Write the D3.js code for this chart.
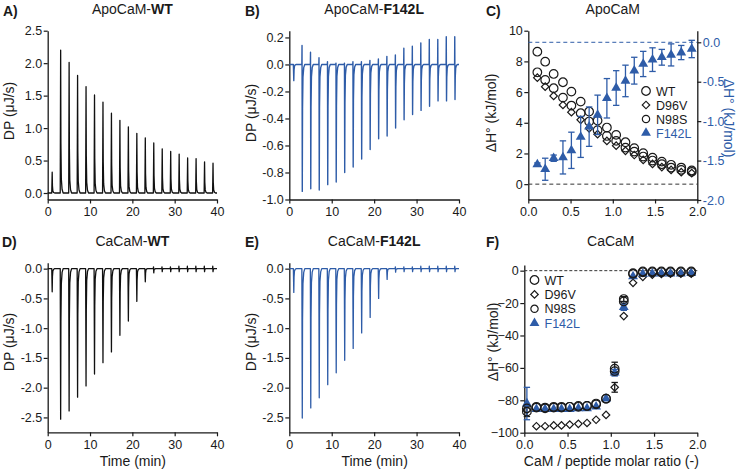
<!DOCTYPE html>
<html><head><meta charset="utf-8">
<script src="https://cdn.jsdelivr.net/npm/d3@7"></script>
<style>body{margin:0;background:#fff} svg{display:block}</style>
</head><body><svg id="c" width="740" height="471"></svg>
<script>
// ---------- DATA ----------
const injTimes = [1,3,5,7,9,11,13,15,17,19,21,23,25,27,29,31,33,35,37,39];
const timeTicks = [0,10,20,30,40];
// ApoCaM-WT peak heights (µJ/s)
const apoWTPeaks = [0.32,2.20,2.01,1.81,1.64,1.51,1.40,1.23,1.12,1.02,0.92,0.85,0.77,0.68,0.64,0.60,0.54,0.53,0.48,0.46];
// ApoCaM-F142L: negative peak and small positive spike per injection
const apoF142LDown = [-0.12,-0.94,-0.92,-0.93,-0.89,-0.87,-0.80,-0.76,-0.70,-0.63,-0.55,-0.53,-0.47,-0.41,-0.37,-0.34,-0.31,-0.27,-0.27,-0.26];
const apoF142LUp = [0,0.14,0.09,0.05,0.02,0.01,0.01,0.02,0.02,0.03,0.04,0.06,0.07,0.12,0.135,0.16,0.185,0.185,0.205,0.205];
// CaCaM-WT
const caWTDown = [-0.39,-2.53,-2.39,-2.16,-1.97,-1.77,-1.58,-1.40,-1.12,-0.88,-0.55,-0.22,-0.07,-0.05,-0.05,-0.05,-0.05,-0.05,-0.05,-0.05];
const caWTUp = [0,0,0,0,0,0,0,0,0,0,0,0,0.03,0.03,0.03,0.04,0.04,0.04,0.04,0.04];
// CaCaM-F142L
const caF142LDown = [-0.40,-2.51,-2.34,-2.17,-1.95,-1.75,-1.54,-1.34,-1.08,-0.82,-0.50,-0.18,-0.06,-0.05,-0.05,-0.05,-0.05,-0.05,-0.05,-0.05];
const caF142LUp = [0,0,0,0,0,0,0,0,0,0,0,0,0.03,0.03,0.03,0.04,0.04,0.04,0.04,0.04];

// Panel C: ApoCaM enthalpies vs molar ratio
const ratioC = [0.107,0.20,0.30,0.41,0.51,0.62,0.72,0.82,0.93,1.04,1.15,1.254,1.36,1.47,1.58,1.69,1.81,1.934];
const apoC_WT   = [8.63,7.98,7.18,6.64,6.03,5.38,4.73,4.14,3.69,3.21,2.73,2.35,2.02,1.73,1.47,1.26,1.08,0.89];
const apoC_N98S = [7.29,6.79,6.25,5.64,5.12,4.62,4.08,3.52,3.14,2.82,2.38,2.12,1.80,1.54,1.30,1.08,0.93,0.80];
const apoC_D96V = [6.94,6.35,5.75,5.16,4.69,4.19,3.64,3.26,2.82,2.51,2.17,1.90,1.58,1.32,1.11,0.93,0.78,0.72];
const apoC_F142L    = [-1.55,-1.61,-1.47,-1.46,-1.37,-1.20,-1.07,-0.92,-0.71,-0.58,-0.49,-0.36,-0.275,-0.22,-0.19,-0.16,-0.13,-0.085];
const apoC_F142LErr = [0.02,0.14,0.04,0.21,0.23,0.26,0.25,0.25,0.25,0.22,0.20,0.17,0.16,0.15,0.10,0.14,0.09,0.11];

// Panel F: CaCaM enthalpies vs molar ratio
const ratioF = [0.03,0.14,0.24,0.34,0.43,0.525,0.625,0.725,0.83,0.945,1.045,1.15,1.257,1.37,1.48,1.585,1.69,1.81,1.93];
const caF_WT    = [-87,-84,-84.5,-84,-84,-84,-83.5,-83.5,-82,-79,-60.5,-17.5,-1.5,-0.5,-0.5,-0.5,-0.5,-0.5,-0.5];
const caF_WTErr = [3,0,0,0,0,0,0,0,0,0,4,1.5,0,0,0,0,0,0,0];
const caF_N98S  = [-85,-84.5,-85,-84.5,-84.5,-84,-84,-83.5,-82.5,-79,-62,-19,-2,-1,-1,-1,-1,-1,-1];
const caF_D96V  = [-86,-96,-96,-95.5,-95.5,-95,-94.5,-94,-92,-89,-72,-28,-7.5,-3.8,-2.5,-2,-1.8,-1.8,-1.8];
const caF_D96VErr = [0,0,0,0,0,0,0,0,0,0,3,0,0,0,0,0,0,0,0];
const caF_F142L = [-82,-85.5,-85.5,-85.5,-85.5,-85.5,-85,-85,-84,-79,-63,-22.5,-3.5,-2,-1.8,-1.8,-1.8,-1.8,-1.5];
const caF_F142LErr = [10,0,0,0,0,0,0,0,0,0,2,2,0,0,0,0,0,0,0];

const ratioTicks = [0,0.5,1,1.5,2];
const legendNames = ["WT","D96V","N98S","F142L"];

// ---------- STYLE ----------
const FONT = '"Liberation Sans", Arial, Helvetica, sans-serif';
const BLUE = "#2e5ca8";
const INK = "#1a1a1a";
const TICK_FS = "12.5px";
const svg = d3.select("#c").style("font-family", FONT);

const fmt = dec => d => (d < 0 ? "-" : "") + Math.abs(d).toFixed(dec);

function styleAxis(g, lineColor, labelColor) {
  g.attr("font-family", null).attr("font-size", null);
  g.select(".domain").attr("stroke", lineColor).attr("stroke-width", 1.3);
  g.selectAll(".tick line").attr("stroke", lineColor).attr("stroke-width", 1.2);
  g.selectAll(".tick text").attr("fill", labelColor).style("font-family", FONT).style("font-size", TICK_FS);
}

function panel(p) {
  const x = d3.scaleLinear().domain(p.xDomain).range([p.x0, p.x1]);
  const y = d3.scaleLinear().domain(p.yDomain).range([p.yBot, p.yTop]);
  const gx = svg.append("g").attr("transform", `translate(0,${p.yBot})`)
    .call(d3.axisBottom(x).tickValues(p.xTicks).tickFormat(p.xFmt).tickSize(4).tickPadding(3.5).tickSizeOuter(0));
  styleAxis(gx, INK, INK);
  const gy = svg.append("g").attr("transform", `translate(${p.x0},0)`)
    .call(d3.axisLeft(y).tickValues(p.yTicks).tickFormat(p.yFmt).tickSize(4).tickPadding(1.5).tickSizeOuter(0));
  styleAxis(gy, INK, INK);
  const t = svg.append("text").attr("x", (p.x0 + p.x1) / 2).attr("y", p.titleY)
    .attr("text-anchor", "middle").style("font-size", "14px").attr("fill", INK);
  t.append("tspan").text(p.title[0]);
  if (p.title[1]) t.append("tspan").attr("font-weight", "bold").text(p.title[1]);
  svg.append("text").attr("x", p.letterX).attr("y", p.titleY + 1.5).attr("font-weight", "bold")
    .style("font-size", "14px").attr("fill", INK).text(p.letter);
  svg.append("text").attr("transform", `translate(${p.yLabX},${p.yLabY}) rotate(-90)`)
    .attr("text-anchor", "middle").style("font-size", "14px").attr("fill", INK).text(p.yLabel);
  if (p.xLabel) {
    svg.append("text").attr("x", (p.x0 + p.x1) / 2 + 0.5).attr("y", 466)
      .attr("text-anchor", "middle").style("font-size", "14px").attr("fill", INK).text(p.xLabel);
  }
  return {x, y};
}

// builds the vertex list of a thermogram from the per-injection peak values
function trace(times, peaks, ups) {
  const pts = [[0, 0]];
  times.forEach((t, i) => {
    const h = peaks[i], u = ups ? ups[i] : 0;
    pts.push([t - 0.04, 0]);
    if (u) pts.push([t, u]);
    pts.push([t + 0.06, h], [t + 0.12, h * 0.35], [t + 0.22, h * 0.1], [t + 0.4, h * 0.025], [t + 0.65, 0]);
  });
  pts.push([40, 0]);
  return pts;
}

function drawTrace(sc, pts, color, w) {
  svg.append("path").datum(pts)
    .attr("d", d3.line().x(d => sc.x(d[0])).y(d => sc.y(d[1])))
    .attr("fill", "none").attr("stroke", color).attr("stroke-width", w).attr("stroke-linejoin", "round");
}

const colA = {x0: 47.7, x1: 217}, colB = {x0: 289.3, x1: 459};
const row1 = {yTop: 30.7, yBot: 199.5, titleY: 14}, row2 = {yTop: 262.7, yBot: 432.3, titleY: 245.5};

// ---------- A ----------
const sA = panel({...colA, ...row1, xDomain: [0, 40], yDomain: [-0.1, 2.5], xTicks: timeTicks, xFmt: d3.format("d"),
  yTicks: [0, 0.5, 1, 1.5, 2, 2.5], yFmt: fmt(1), title: ["ApoCaM-", "WT"], letter: "A)", letterX: 3,
  yLabel: "DP (μJ/s)", yLabX: 14, yLabY: 111});
drawTrace(sA, trace(injTimes, apoWTPeaks, null), "#111", 1.3);

// ---------- B ----------
const sB = panel({...colB, ...row1, xDomain: [0, 40], yDomain: [-1, 0.25], xTicks: timeTicks, xFmt: d3.format("d"),
  yTicks: [-1, -0.8, -0.6, -0.4, -0.2, 0, 0.2], yFmt: fmt(1), title: ["ApoCaM-", "F142L"], letter: "B)", letterX: 245,
  yLabel: "DP (μJ/s)", yLabX: 256, yLabY: 113});
drawTrace(sB, trace(injTimes, apoF142LDown, apoF142LUp), BLUE, 1.4);

// ---------- D ----------
const sD = panel({...colA, ...row2, xDomain: [0, 40], yDomain: [-2.75, 0.1], xTicks: timeTicks, xFmt: d3.format("d"),
  yTicks: [-2.5, -2, -1.5, -1, -0.5, 0], yFmt: fmt(1), title: ["CaCaM-", "WT"], letter: "D)", letterX: 2,
  yLabel: "DP (μJ/s)", yLabX: 14, yLabY: 342, xLabel: "Time (min)"});
drawTrace(sD, trace(injTimes, caWTDown, caWTUp), "#111", 1.3);

// ---------- E ----------
const sE = panel({...colB, ...row2, xDomain: [0, 40], yDomain: [-2.75, 0.1], xTicks: timeTicks, xFmt: d3.format("d"),
  yTicks: [-2.5, -2, -1.5, -1, -0.5, 0], yFmt: fmt(1), title: ["CaCaM-", "F142L"], letter: "E)", letterX: 245,
  yLabel: "DP (μJ/s)", yLabX: 256, yLabY: 342, xLabel: "Time (min)"});
drawTrace(sE, trace(injTimes, caF142LDown, caF142LUp), BLUE, 1.3);

// ---------- symbols ----------
const symBig = d3.symbol().type(d3.symbolCircle).size(58)();
const symSmall = d3.symbol().type(d3.symbolCircle).size(42)();
const symDiamond = d3.symbol().type(d3.symbolSquare).size(28)();
const symTri = d3.symbol().type(d3.symbolTriangle).size(42)();

function markers(xs, ys, sx, sy, path, opts) {
  svg.append("g").selectAll("path").data(xs).join("path")
    .attr("d", path)
    .attr("transform", (d, i) => `translate(${sx(d)},${sy(ys[i])})` + (opts.rot ? " rotate(45)" : ""))
    .attr("fill", opts.fill).attr("stroke", opts.stroke).attr("stroke-width", opts.sw || 0);
}
function errbars(xs, ys, es, sx, sy, color) {
  const g = svg.append("g").attr("stroke", color).attr("stroke-width", 1.3).attr("fill", "none");
  xs.forEach((d, i) => {
    if (!es[i]) return;
    const cx = sx(d), y1 = sy(ys[i] + es[i]), y2 = sy(ys[i] - es[i]);
    g.append("line").attr("x1", cx).attr("x2", cx).attr("y1", y1).attr("y2", y2);
    g.append("line").attr("x1", cx - 3.2).attr("x2", cx + 3.2).attr("y1", y1).attr("y2", y1);
    g.append("line").attr("x1", cx - 3.2).attr("x2", cx + 3.2).attr("y1", y2).attr("y2", y2);
  });
}
function legend(x0, y0, dy, fs) {
  const syms = [[symBig, false, "none", INK], [symDiamond, true, "none", INK], [symSmall, false, "none", INK], [symTri, false, BLUE, BLUE]];
  legendNames.forEach((n, i) => {
    const s = syms[i];
    svg.append("path").attr("d", s[0]).attr("transform", `translate(${x0},${y0 + i * dy})` + (s[1] ? " rotate(45)" : ""))
      .attr("fill", s[2]).attr("stroke", s[2] === "none" ? INK : "none").attr("stroke-width", 1.2);
    svg.append("text").attr("x", x0 + 10).attr("y", y0 + i * dy + 4.5).style("font-size", fs + "px")
      .attr("fill", s[3]).text(n);
  });
}

// ---------- C ----------
{
  const x0 = 528.3, x1 = 697.3;
  const sC = panel({x0, x1, ...row1, xDomain: [0, 2], yDomain: [-1, 10], xTicks: ratioTicks, xFmt: fmt(1),
    yTicks: [0, 2, 4, 6, 8, 10], yFmt: d3.format("d"), title: ["ApoCaM"], letter: "C)", letterX: 486,
    yLabel: "ΔH° (kJ/mol)", yLabX: 496, yLabY: 113});
  const yR = d3.scaleLinear().domain([-2, 0.147]).range([row1.yBot + 0.5, row1.yTop]);
  const gR = svg.append("g").attr("transform", `translate(${x1},0)`)
    .call(d3.axisRight(yR).tickValues([-2, -1.5, -1, -0.5, 0]).tickFormat(fmt(1)).tickSize(4).tickPadding(1.5).tickSizeOuter(0));
  styleAxis(gR, INK, BLUE);
  svg.append("text").attr("transform", `translate(724,118) rotate(90)`).attr("text-anchor", "middle")
    .style("font-size", "14px").attr("fill", BLUE).text("ΔH° (kJ/mol)");
  svg.append("line").attr("x1", x0).attr("x2", x1).attr("y1", sC.y(0)).attr("y2", sC.y(0))
    .attr("stroke", "#333").attr("stroke-width", 1).attr("stroke-dasharray", "4,3");
  svg.append("line").attr("x1", x0).attr("x2", x1).attr("y1", yR(0)).attr("y2", yR(0))
    .attr("stroke", BLUE).attr("stroke-width", 1).attr("stroke-dasharray", "4,3");
  markers(ratioC, apoC_D96V, sC.x, sC.y, symDiamond, {fill: "none", stroke: INK, sw: 1.2, rot: true});
  markers(ratioC, apoC_N98S, sC.x, sC.y, symBig, {fill: "none", stroke: INK, sw: 1.2});
  markers(ratioC, apoC_WT, sC.x, sC.y, symBig, {fill: "none", stroke: INK, sw: 1.2});
  errbars(ratioC, apoC_F142L, apoC_F142LErr, sC.x, yR, BLUE);
  markers(ratioC, apoC_F142L, sC.x, yR, symTri, {fill: BLUE, stroke: "none"});
  legend(646, 91, 14, 12.5);
}

// ---------- F ----------
{
  const x0 = 524.3, x1 = 697.3;
  const sF = panel({x0, x1, yTop: 265, yBot: 432.7, titleY: 245.5, xDomain: [0, 2], yDomain: [-100, 3.5],
    xTicks: ratioTicks, xFmt: fmt(1), yTicks: [-100, -80, -60, -40, -20, 0], yFmt: d3.format("d"),
    title: ["CaCaM"], letter: "F)", letterX: 486, yLabel: "ΔH° (kJ/mol)", yLabX: 498, yLabY: 342,
    xLabel: "CaM / peptide molar ratio (-)"});
  svg.append("line").attr("x1", x0).attr("x2", x1).attr("y1", sF.y(0)).attr("y2", sF.y(0))
    .attr("stroke", "#333").attr("stroke-width", 1).attr("stroke-dasharray", "3,2");
  errbars(ratioF, caF_D96V, caF_D96VErr, sF.x, sF.y, INK);
  markers(ratioF, caF_D96V, sF.x, sF.y, symDiamond, {fill: "none", stroke: INK, sw: 1.2, rot: true});
  errbars(ratioF, caF_WT, caF_WTErr, sF.x, sF.y, INK);
  errbars(ratioF, caF_F142L, caF_F142LErr, sF.x, sF.y, BLUE);
  markers(ratioF, caF_F142L, sF.x, sF.y, symTri, {fill: BLUE, stroke: "none"});
  markers(ratioF, caF_N98S, sF.x, sF.y, symBig, {fill: "none", stroke: INK, sw: 1.2});
  markers(ratioF, caF_WT, sF.x, sF.y, symBig, {fill: "none", stroke: INK, sw: 1.2});
  legend(534.5, 280, 14.4, 12.5);
}
</script></body></html>
